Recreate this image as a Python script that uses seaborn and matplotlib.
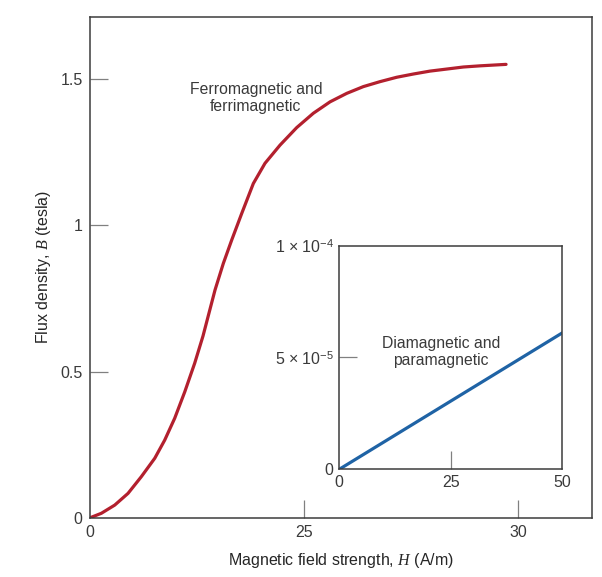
import numpy as np
import pandas as pd
import matplotlib
matplotlib.use('Agg')
import matplotlib.pyplot as plt
import seaborn as sns

# ---- data ----
# main curve (ferro/ferrimagnetic); x in tick units where ticks sit at 0, 25, 50
ferro_H = [0.0, 1.38, 2.94, 4.49, 6.04, 7.61, 8.77, 9.94, 11.11, 12.27, 13.24,
           14.64, 15.61, 16.59, 17.76, 19.11, 20.47, 22.22, 24.17, 26.11,
           28.06, 30.01, 31.94, 33.89, 35.84, 37.77, 39.72, 41.67, 43.61, 45.56, 48.59]
ferro_B = [0.0, 0.016, 0.044, 0.084, 0.141, 0.204, 0.266, 0.341, 0.431, 0.529, 0.622,
           0.779, 0.870, 0.950, 1.041, 1.143, 1.212, 1.274, 1.334, 1.383,
           1.422, 1.451, 1.474, 1.491, 1.506, 1.517, 1.527, 1.534, 1.541, 1.545, 1.550]

# inset (dia/paramagnetic)
para_H = [0.0, 50.0]
para_B = [0.0, 6.1e-5]

main_xticks = [0, 25, 50]
main_xticklabels = ['0', '25', '30']
main_yticks = [0, 0.5, 1, 1.5]
main_yticklabels = ['0', '0.5', '1', '1.5']
inset_xticks = [0, 25, 50]
inset_yticks = [0, 5e-5, 1e-4]
inset_yticklabels = ['0', r'$5\,\times\,10^{-5}$', r'$1\,\times\,10^{-4}$']

red = '#b3202e'
blue = '#1f63a5'
txt = '#3a3a3a'

sns.set_theme(style='white')
plt.rcParams['font.family'] = ['Liberation Sans', 'DejaVu Sans']
plt.rcParams['mathtext.fontset'] = 'custom'
plt.rcParams['mathtext.rm'] = 'Liberation Sans'
plt.rcParams['mathtext.it'] = 'Liberation Serif:italic'
plt.rcParams['mathtext.bf'] = 'Liberation Serif:italic:bold'
plt.rcParams['text.color'] = txt
plt.rcParams['xtick.color'] = '#808080'
plt.rcParams['ytick.color'] = '#808080'
plt.rcParams['xtick.labelcolor'] = txt
plt.rcParams['ytick.labelcolor'] = txt


def hide_edge_ticks(a, xidx, yidx):
    # ticks that sit on a spine are not drawn in the original
    xt = a.xaxis.get_major_ticks()
    yt = a.yaxis.get_major_ticks()
    for i in xidx:
        xt[i].tick1line.set_visible(False)
    for i in yidx:
        yt[i].tick1line.set_visible(False)


fig = plt.figure(figsize=(6.02, 5.77), dpi=100)
ax = fig.add_axes([0.1487, 0.1023, 0.8339, 0.8683])

df = pd.DataFrame({'H': ferro_H, 'B': ferro_B})
sns.lineplot(data=df, x='H', y='B', ax=ax, color=red, lw=2.3)
ax.set_xlim(0, 58.56)
ax.set_ylim(0, 1.712)
ax.set_xticks(main_xticks)
ax.set_xticklabels(main_xticklabels)
ax.set_yticks(main_yticks)
ax.set_yticklabels(main_yticklabels)
ax.tick_params(bottom=True, left=True, direction='in', length=13, width=0.9,
               labelsize=11.5, pad=5)
hide_edge_ticks(ax, [0], [0])
for s in ax.spines.values():
    s.set_color('#3c3c3c')
    s.set_linewidth(1.1)
ax.set_xlabel(r'Magnetic field strength, $H$ (A/m)', fontsize=11.5, labelpad=8)
ax.set_ylabel(r'Flux density, $B$ (tesla)', fontsize=11.5, labelpad=5)
ax.text(19.4, 1.435, 'Ferromagnetic and\nferrimagnetic', ha='center', va='center',
        fontsize=11.3, linespacing=1.15)

# inset
axi = fig.add_axes([0.5636, 0.1867, 0.3704, 0.3875])
dfi = pd.DataFrame({'H': para_H, 'B': para_B})
sns.lineplot(data=dfi, x='H', y='B', ax=axi, color=blue, lw=2.3)
axi.set_xlim(0, 50)
axi.set_ylim(0, 1e-4)
axi.set_xticks(inset_xticks)
axi.set_yticks(inset_yticks)
axi.set_yticklabels(inset_yticklabels)
axi.tick_params(bottom=True, left=True, direction='in', length=13, width=0.9,
                labelsize=11.5, pad=4)
hide_edge_ticks(axi, [0, 2], [0, 2])
axi.set_xlabel('')
axi.set_ylabel('')
for s in axi.spines.values():
    s.set_color('#3c3c3c')
    s.set_linewidth(1.1)
axi.text(22.8, 5.25e-5, 'Diamagnetic and\nparamagnetic', ha='center', va='center',
         fontsize=11.3, linespacing=1.15)

fig.savefig('out.png', dpi=100)
